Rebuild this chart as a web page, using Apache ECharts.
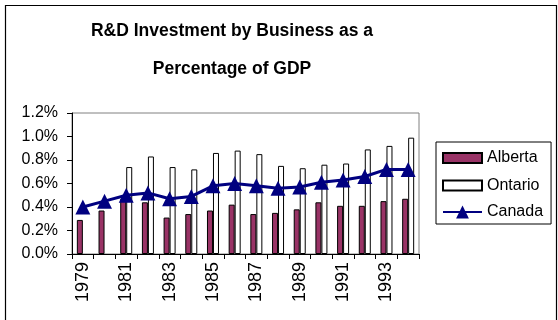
<!DOCTYPE html>
<html>
<head>
<meta charset="utf-8">
<script src="https://cdn.jsdelivr.net/npm/echarts@6/dist/echarts.min.js"></script>
<style>
html,body{margin:0;padding:0;background:#fff;}
#chart{width:558px;height:320px;}
</style>
</head>
<body>
<div id="chart"></div>
<script>
var years = ['1979','1980','1981','1982','1983','1984','1985','1986','1987','1988','1989','1990','1991','1992','1993','1994'];
var alberta = [0.29,0.37,0.47,0.44,0.31,0.34,0.37,0.42,0.34,0.35,0.38,0.44,0.41,0.41,0.45,0.47];
var ontario = [null,null,0.74,0.83,0.74,0.72,0.86,0.88,0.85,0.75,0.73,0.76,0.77,0.89,0.92,0.99];
var canada = [0.40,0.45,0.50,0.52,0.47,0.49,0.58,0.60,0.58,0.56,0.57,0.61,0.63,0.66,0.72,0.72];
var titleLines = ['R&D Investment by Business as a', 'Percentage of GDP'];

var FONT = '"Liberation Sans", Arial, sans-serif';
var rectIcon = 'path://M0,0M0,3L39,3L39,13L0,13ZM0,16';
var chart = echarts.init(document.getElementById('chart'), null, {renderer:'canvas'});
chart.setOption({
  animation: false,
  backgroundColor: '#fff',
  graphic: [
    {type:'rect', left:3, top:3, shape:{width:551, height:330}, style:{fill:'none', stroke:'#000', lineWidth:1.2}, z:100},
    {type:'text', x:232, y:31, style:{text:titleLines[0], font:'bold 17.5px ' + FONT, fill:'#000', textAlign:'center', textVerticalAlign:'middle'}},
    {type:'text', x:232, y:69, style:{text:titleLines[1], font:'bold 17.5px ' + FONT, fill:'#000', textAlign:'center', textVerticalAlign:'middle'}}
  ],
  grid: {left:72, top:113, right:139, bottom:66, show:true, borderColor:'#808080', borderWidth:1, backgroundColor:'transparent'},
  legend: {
    orient:'vertical', left:436, top:142,
    data:[{name:'Alberta', icon:rectIcon},{name:'Ontario', icon:rectIcon},{name:'Canada'}],
    borderColor:'#000', borderWidth:1, padding:[7,8,4,6],
    itemGap:9.5, itemWidth:39, itemHeight:16,
    textStyle:{fontFamily:FONT, fontSize:16, color:'#000'}
  },
  xAxis: {
    type:'category', data:years, boundaryGap:true,
    axisLine:{lineStyle:{color:'#000', width:1}},
    axisTick:{show:true, interval:0, length:5, lineStyle:{color:'#000'}},
    axisLabel:{interval:1, rotate:90, margin:8, fontFamily:FONT, fontSize:18, color:'#000'},
    splitLine:{show:false}
  },
  yAxis: {
    type:'value', min:0, max:1.2, interval:0.2,
    axisLine:{show:true, lineStyle:{color:'#000', width:1}},
    axisTick:{show:true, length:5, lineStyle:{color:'#000'}},
    axisLabel:{margin:14, fontFamily:FONT, fontSize:16, color:'#000', formatter:function(v){return v.toFixed(1)+'%';}},
    splitLine:{show:false}
  },
  series: [
    {name:'Alberta', type:'bar', data:alberta, barWidth:6, barGap:'0%', barCategoryGap:'40%',
     itemStyle:{color:'#993366', borderColor:'#000', borderWidth:1}},
    {name:'Ontario', type:'bar', data:ontario, barWidth:6, barGap:'0%',
     itemStyle:{color:'#fff', borderColor:'#000', borderWidth:1}},
    {name:'Canada', type:'line', data:canada, symbol:'triangle', symbolSize:15, showAllSymbol:true, z:10,
     lineStyle:{color:'#000080', width:3}, itemStyle:{color:'#000080'}}
  ]
});
</script>
</body>
</html>
